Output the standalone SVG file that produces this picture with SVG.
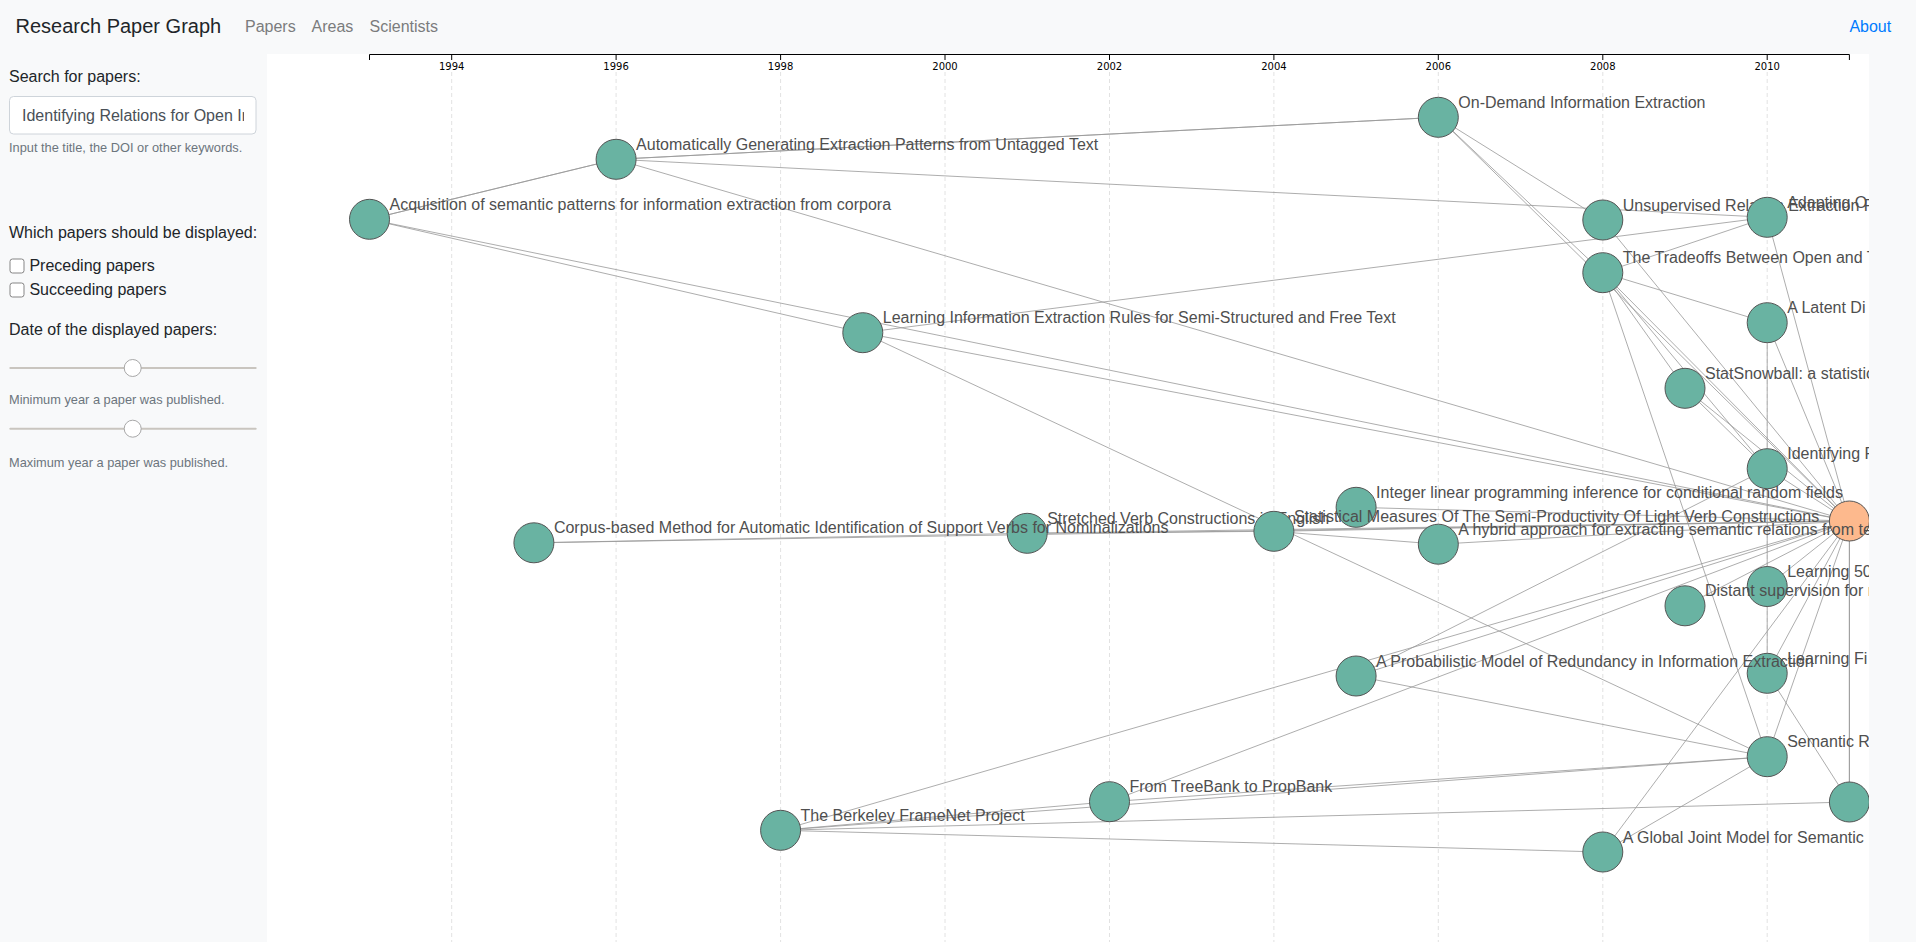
<svg xmlns="http://www.w3.org/2000/svg" width="1916" height="942" viewBox="0 0 1916 942">
<defs>
<style>
.ui{font-family:"Liberation Sans",Arial,Helvetica,sans-serif}
.brand{font-size:20px;fill:#212529}
.navl{font-size:16px;fill:#7b7c7d}
.lbl{font-size:16px;fill:#212529}
.small{font-size:12.8px;fill:#6c757d}
.edge line{stroke:#999;stroke-opacity:.8;stroke-width:1;fill:none}
.node circle{fill:#69b3a2;stroke:#555;stroke-width:1}
.node.target circle{fill:#fdb98d}
.node text{font-family:"Liberation Sans",Arial,Helvetica,sans-serif;font-size:16px;fill:#4f4f4f}
.tick text{font-family:"DejaVu Sans",sans-serif;font-size:10px;fill:#000;text-anchor:middle}
.tick line{stroke:#000;stroke-width:1}
.grid line{stroke:#e2e2e2;stroke-width:1;stroke-dasharray:4 3}
.track{fill:#c9c5bf}
.thumb{fill:#fff;stroke:#a8a8a8;stroke-width:1}
.chk{fill:#fff;stroke:#858585;stroke-width:1}
</style>
<clipPath id="graphClip"><rect x="267" y="54" width="1602" height="888"/></clipPath>
<clipPath id="inputClip"><rect x="10" y="97" width="234" height="36"/></clipPath>
</defs>

<rect x="0" y="0" width="1916" height="942" fill="#f8f9fa"/>

<g id="navbar" class="ui">
<text class="brand" x="15.5" y="33.3">Research Paper Graph</text>
<text class="navl" x="245" y="31.5">Papers</text>
<text class="navl" x="311.5" y="31.5">Areas</text>
<text class="navl" x="369.5" y="31.5">Scientists</text>
<text x="1849.4" y="31.5" font-size="16" fill="#007bff">About</text>
</g>

<g id="sidebar" class="ui">
<text class="lbl" x="9" y="81.7">Search for papers:</text>
<rect x="9.5" y="96.5" width="246.5" height="37.5" rx="4" fill="#fff" stroke="#ced4da"/>
<text x="22" y="120.7" font-size="16" fill="#495057" clip-path="url(#inputClip)">Identifying Relations for Open In</text>
<text class="small" x="9" y="151.7">Input the title, the DOI or other keywords.</text>
<text class="lbl" x="9" y="238.3">Which papers should be displayed:</text>
<rect class="chk" x="10" y="259" width="14" height="14" rx="2.5"/>
<text class="lbl" x="29.4" y="270.7">Preceding papers</text>
<rect class="chk" x="10" y="283" width="14" height="14" rx="2.5"/>
<text class="lbl" x="29.4" y="295">Succeeding papers</text>
<text class="lbl" x="9" y="335">Date of the displayed papers:</text>
<rect class="track" x="9.3" y="367" width="247.4" height="2" rx="1"/>
<circle class="thumb" cx="132.7" cy="368" r="8.5"/>
<text class="small" x="9" y="404.3">Minimum year a paper was published.</text>
<rect class="track" x="9.3" y="427.7" width="247.4" height="2" rx="1"/>
<circle class="thumb" cx="132.7" cy="428.7" r="8.5"/>
<text class="small" x="9" y="466.7">Maximum year a paper was published.</text>
</g>

<rect x="267" y="54" width="1602" height="888" fill="#fff"/>

<g clip-path="url(#graphClip)">
<g id="grid" class="grid">
<line x1="451.7" y1="72" x2="451.7" y2="942"/>
<line x1="616.1" y1="72" x2="616.1" y2="942"/>
<line x1="780.6" y1="72" x2="780.6" y2="942"/>
<line x1="945" y1="72" x2="945" y2="942"/>
<line x1="1109.5" y1="72" x2="1109.5" y2="942"/>
<line x1="1273.9" y1="72" x2="1273.9" y2="942"/>
<line x1="1438.3" y1="72" x2="1438.3" y2="942"/>
<line x1="1602.8" y1="72" x2="1602.8" y2="942"/>
<line x1="1767.2" y1="72" x2="1767.2" y2="942"/>
</g>

<g id="axis">
<path d="M369.5,60V54.5H1849.4V60" fill="none" stroke="#000" stroke-width="1"/>
<g class="tick"><line x1="451.7" y1="54.5" x2="451.7" y2="60"/><text x="451.7" y="70.1">1994</text></g>
<g class="tick"><line x1="616.1" y1="54.5" x2="616.1" y2="60"/><text x="616.1" y="70.1">1996</text></g>
<g class="tick"><line x1="780.6" y1="54.5" x2="780.6" y2="60"/><text x="780.6" y="70.1">1998</text></g>
<g class="tick"><line x1="945" y1="54.5" x2="945" y2="60"/><text x="945" y="70.1">2000</text></g>
<g class="tick"><line x1="1109.5" y1="54.5" x2="1109.5" y2="60"/><text x="1109.5" y="70.1">2002</text></g>
<g class="tick"><line x1="1273.9" y1="54.5" x2="1273.9" y2="60"/><text x="1273.9" y="70.1">2004</text></g>
<g class="tick"><line x1="1438.3" y1="54.5" x2="1438.3" y2="60"/><text x="1438.3" y="70.1">2006</text></g>
<g class="tick"><line x1="1602.8" y1="54.5" x2="1602.8" y2="60"/><text x="1602.8" y="70.1">2008</text></g>
<g class="tick"><line x1="1767.2" y1="54.5" x2="1767.2" y2="60"/><text x="1767.2" y="70.1">2010</text></g>
</g>

<g id="connectors" class="edge">
<line x1="369.5" y1="219.3" x2="616.1" y2="159.3"/>
<line x1="369.5" y1="219.3" x2="616.1" y2="159.3"/>
<line x1="369.5" y1="219.3" x2="862.8" y2="332.7"/>
<line x1="369.5" y1="219.3" x2="1849.4" y2="521"/>
<line x1="616.1" y1="159.3" x2="1438.3" y2="117.3"/>
<line x1="616.1" y1="159.3" x2="1438.3" y2="117.3"/>
<line x1="616.1" y1="159.3" x2="1767.2" y2="217.3"/>
<line x1="616.1" y1="159.3" x2="1849.4" y2="521"/>
<line x1="1438.3" y1="117.3" x2="1602.8" y2="220"/>
<line x1="1438.3" y1="117.3" x2="1602.8" y2="272.7"/>
<line x1="1438.3" y1="117.3" x2="1849.4" y2="521"/>
<line x1="1602.8" y1="220" x2="1849.4" y2="521"/>
<line x1="1602.8" y1="272.7" x2="1767.2" y2="217.3"/>
<line x1="1602.8" y1="272.7" x2="1767.2" y2="322.7"/>
<line x1="1602.8" y1="272.7" x2="1685" y2="388.3"/>
<line x1="1602.8" y1="272.7" x2="1767.2" y2="468.7"/>
<line x1="1602.8" y1="272.7" x2="1849.4" y2="521"/>
<line x1="1602.8" y1="272.7" x2="1767.2" y2="756.7"/>
<line x1="862.8" y1="332.7" x2="1767.2" y2="217.3"/>
<line x1="862.8" y1="332.7" x2="1849.4" y2="521"/>
<line x1="862.8" y1="332.7" x2="1767.2" y2="756.7"/>
<line x1="1767.2" y1="217.3" x2="1849.4" y2="521"/>
<line x1="1767.2" y1="322.7" x2="1849.4" y2="521"/>
<line x1="1767.2" y1="322.7" x2="1767.2" y2="673.3"/>
<line x1="1685" y1="388.3" x2="1767.2" y2="468.7"/>
<line x1="1685" y1="388.3" x2="1849.4" y2="521"/>
<line x1="1767.2" y1="468.7" x2="1849.4" y2="521"/>
<line x1="1356.1" y1="507.3" x2="1849.4" y2="521"/>
<line x1="533.9" y1="542.8" x2="1027.2" y2="533.3"/>
<line x1="533.9" y1="542.8" x2="1849.4" y2="521"/>
<line x1="1027.2" y1="533.3" x2="1273.9" y2="531.3"/>
<line x1="1027.2" y1="533.3" x2="1849.4" y2="521"/>
<line x1="1273.9" y1="531.3" x2="1849.4" y2="521"/>
<line x1="1273.9" y1="531.3" x2="1438.3" y2="544.2"/>
<line x1="1438.3" y1="544.2" x2="1849.4" y2="521"/>
<line x1="1767.2" y1="586.5" x2="1849.4" y2="521"/>
<line x1="1685" y1="605.8" x2="1849.4" y2="521"/>
<line x1="1356.1" y1="676" x2="1849.4" y2="521"/>
<line x1="1356.1" y1="676" x2="1767.2" y2="468.7"/>
<line x1="1356.1" y1="676" x2="1767.2" y2="756.7"/>
<line x1="1767.2" y1="673.3" x2="1849.4" y2="521"/>
<line x1="1767.2" y1="673.3" x2="1849.4" y2="802"/>
<line x1="1767.2" y1="756.7" x2="1849.4" y2="521"/>
<line x1="1109.5" y1="801.7" x2="1849.4" y2="521"/>
<line x1="1109.5" y1="801.7" x2="1767.2" y2="756.7"/>
<line x1="780.6" y1="830.3" x2="1109.5" y2="801.7"/>
<line x1="780.6" y1="830.3" x2="1767.2" y2="756.7"/>
<line x1="780.6" y1="830.3" x2="1849.4" y2="521"/>
<line x1="780.6" y1="830.3" x2="1849.4" y2="802"/>
<line x1="780.6" y1="830.3" x2="1602.8" y2="852"/>
<line x1="1602.8" y1="852" x2="1849.4" y2="521"/>
<line x1="1602.8" y1="852" x2="1767.2" y2="756.7"/>
<line x1="1849.4" y1="802" x2="1849.4" y2="521"/>
<line x1="1849.4" y1="802" x2="1849.4" y2="521"/>
</g>

<g id="nodes">
<g id="n-acquisition" class="node"><circle cx="369.5" cy="219.3" r="20"/><text x="389.5" y="209.8">Acquisition of semantic patterns for information extraction from corpora</text></g>
<g id="n-autogen" class="node"><circle cx="616.1" cy="159.3" r="20"/><text x="636.1" y="149.8">Automatically Generating Extraction Patterns from Untagged Text</text></g>
<g id="n-ondemand" class="node"><circle cx="1438.3" cy="117.3" r="20"/><text x="1458.3" y="107.8">On-Demand Information Extraction</text></g>
<g id="n-unsupervised" class="node"><circle cx="1602.8" cy="220" r="20"/><text x="1622.8" y="210.5">Unsupervised Relation Extraction F</text></g>
<g id="n-adapting" class="node"><circle cx="1767.2" cy="217.3" r="20"/><text x="1787.2" y="207.8">Adapting O</text></g>
<g id="n-tradeoffs" class="node"><circle cx="1602.8" cy="272.7" r="20"/><text x="1622.8" y="263.2">The Tradeoffs Between Open and T</text></g>
<g id="n-latent" class="node"><circle cx="1767.2" cy="322.7" r="20"/><text x="1787.2" y="313.2">A Latent Di</text></g>
<g id="n-learningie" class="node"><circle cx="862.8" cy="332.7" r="20"/><text x="882.8" y="323.2">Learning Information Extraction Rules for Semi-Structured and Free Text</text></g>
<g id="n-statsnowball" class="node"><circle cx="1685" cy="388.3" r="20"/><text x="1705" y="378.8">StatSnowball: a statistic</text></g>
<g id="n-identifying" class="node"><circle cx="1767.2" cy="468.7" r="20"/><text x="1787.2" y="459.2">Identifying F</text></g>
<g id="n-target" class="node target"><circle cx="1849.4" cy="521" r="20"/></g>
<g id="n-integer" class="node"><circle cx="1356.1" cy="507.3" r="20"/><text x="1376.1" y="497.8">Integer linear programming inference for conditional random fields</text></g>
<g id="n-stretched" class="node"><circle cx="1027.2" cy="533.3" r="20"/><text x="1047.2" y="523.8">Stretched Verb Constructions in English</text></g>
<g id="n-corpus" class="node"><circle cx="533.9" cy="542.8" r="20"/><text x="553.9" y="533.3">Corpus-based Method for Automatic Identification of Support Verbs for Nominalizations</text></g>
<g id="n-statistical" class="node"><circle cx="1273.9" cy="531.3" r="20"/><text x="1293.9" y="521.8">Statistical Measures Of The Semi-Productivity Of Light Verb Constructions</text></g>
<g id="n-hybrid" class="node"><circle cx="1438.3" cy="544.2" r="20"/><text x="1458.3" y="534.7">A hybrid approach for extracting semantic relations from te</text></g>
<g id="n-learning50" class="node"><circle cx="1767.2" cy="586.5" r="20"/><text x="1787.2" y="577">Learning 50</text></g>
<g id="n-distant" class="node"><circle cx="1685" cy="605.8" r="20"/><text x="1705" y="596.3">Distant supervision for r</text></g>
<g id="n-learningfi" class="node"><circle cx="1767.2" cy="673.3" r="20"/><text x="1787.2" y="663.8">Learning Fi</text></g>
<g id="n-probabilistic" class="node"><circle cx="1356.1" cy="676" r="20"/><text x="1376.1" y="666.5">A Probabilistic Model of Redundancy in Information Extraction</text></g>
<g id="n-semantic" class="node"><circle cx="1767.2" cy="756.7" r="20"/><text x="1787.2" y="747.2">Semantic R</text></g>
<g id="n-treebank" class="node"><circle cx="1109.5" cy="801.7" r="20"/><text x="1129.5" y="792.2">From TreeBank to PropBank</text></g>
<g id="n-berkeley" class="node"><circle cx="780.6" cy="830.3" r="20"/><text x="800.6" y="820.8">The Berkeley FrameNet Project</text></g>
<g id="n-2011b" class="node"><circle cx="1849.4" cy="802" r="20"/></g>
<g id="n-globaljoint" class="node"><circle cx="1602.8" cy="852" r="20"/><text x="1622.8" y="842.5">A Global Joint Model for Semantic</text></g>
</g>
</g>
</svg>
